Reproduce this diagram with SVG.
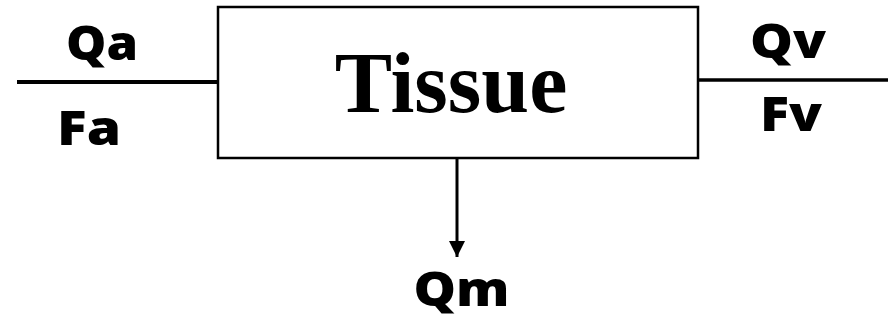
<svg xmlns="http://www.w3.org/2000/svg" width="888" height="320" viewBox="0 0 888 320">
<defs>
<style>
.lbl{font-family:"Open Sans","Liberation Sans",sans-serif;font-weight:800;font-size:48px;fill:#000}
.title{font-family:"Liberation Serif","Times New Roman",serif;font-weight:700;font-size:86px;fill:#000}
.wire{stroke:#000;fill:none}
</style>
<marker id="arr" markerUnits="userSpaceOnUse" markerWidth="16" markerHeight="16" refX="16" refY="8" orient="auto">
<path d="M0,0 L16,8 L0,16 Z" fill="#000"/>
</marker>
</defs>
<rect width="888" height="320" fill="#fff"/>
<g id="connectors">
<line class="wire" x1="17" y1="82" x2="218" y2="82" stroke-width="4"/>
<line class="wire" x1="698" y1="80" x2="888" y2="80" stroke-width="3.5"/>
<line class="wire" x1="457" y1="158" x2="457" y2="257" stroke-width="3" marker-end="url(#arr)"/>
</g>
<g id="tissue">
<rect x="218" y="7" width="480" height="151" fill="#fff" stroke="#000" stroke-width="2.5"/>
<text class="title" x="451" y="112" text-anchor="middle">Tissue</text>
</g>
<g id="label-qa"><text class="lbl" x="102" y="60" text-anchor="middle" textLength="72" lengthAdjust="spacingAndGlyphs">Qa</text></g>
<g id="label-fa"><text class="lbl" x="89" y="145" text-anchor="middle" textLength="64" lengthAdjust="spacingAndGlyphs">Fa</text></g>
<g id="label-qv"><text class="lbl" x="788" y="58" text-anchor="middle" textLength="76" lengthAdjust="spacingAndGlyphs">Qv</text></g>
<g id="label-fv"><text class="lbl" x="791" y="131" text-anchor="middle" textLength="62" lengthAdjust="spacingAndGlyphs">Fv</text></g>
<g id="label-qm"><text class="lbl" x="461.5" y="306" text-anchor="middle" textLength="96" lengthAdjust="spacingAndGlyphs">Qm</text></g>
</svg>
